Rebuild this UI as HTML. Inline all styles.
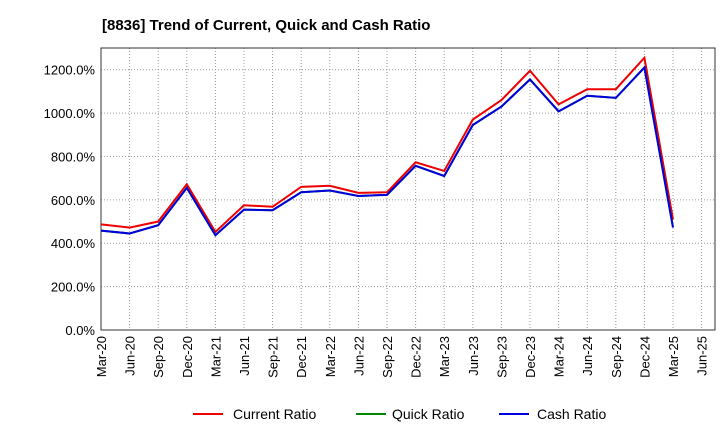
<!DOCTYPE html>
<html><head><meta charset="utf-8"><style>
body{margin:0;background:#fff;font-family:"Liberation Sans",sans-serif;}
svg text{font-family:"Liberation Sans",sans-serif;}
</style></head><body>
<svg id="chart" width="720" height="440" xmlns="http://www.w3.org/2000/svg">
<text x="102" y="30" font-size="15" font-weight="bold" fill="#000">[8836]  Trend of Current, Quick and Cash Ratio</text>
<g id="grid"></g><g id="axes"></g><g id="series"></g>
<g>
<line x1="193" y1="414" x2="223" y2="414" stroke="#e00" stroke-width="2"/>
<text x="233" y="419" font-size="14">Current Ratio</text>
<line x1="356" y1="414" x2="386" y2="414" stroke="#080" stroke-width="2"/>
<text x="392" y="419" font-size="14">Quick Ratio</text>
<line x1="499" y1="414" x2="529" y2="414" stroke="#00d" stroke-width="2"/>
<text x="537" y="419" font-size="14">Cash Ratio</text>
</g>
</svg>
<script>
const categories=["Mar-20","Jun-20","Sep-20","Dec-20","Mar-21","Jun-21","Sep-21","Dec-21","Mar-22","Jun-22","Sep-22","Dec-22","Mar-23","Jun-23","Sep-23","Dec-23","Mar-24","Jun-24","Sep-24","Dec-24","Mar-25"];
const xTickLabels=["Mar-20","Jun-20","Sep-20","Dec-20","Mar-21","Jun-21","Sep-21","Dec-21","Mar-22","Jun-22","Sep-22","Dec-22","Mar-23","Jun-23","Sep-23","Dec-23","Mar-24","Jun-24","Sep-24","Dec-24","Mar-25","Jun-25"];
const currentRatio=[487,472,500,672,452,575,568,660,665,632,635,773,733,970,1060,1195,1040,1110,1110,1255,510];
const quickRatio=[458,445,483,655,437,555,552,635,643,618,623,757,710,945,1030,1155,1008,1080,1070,1210,473];
const cashRatio=[458,445,483,655,437,555,552,635,643,618,623,757,710,945,1030,1155,1008,1080,1070,1210,473];
const yTicks=[0,200,400,600,800,1000,1200];
const L=101,R=715,T=48,B=330,yMax=1300,step=28.6;
const x=i=>L+i*step;
const y=v=>B-(v/yMax)*(B-T);
const NS="http://www.w3.org/2000/svg";
function mk(tag,attrs,parent){const e=document.createElementNS(NS,tag);for(const k in attrs)e.setAttribute(k,attrs[k]);parent.appendChild(e);return e;}
const grid=document.getElementById('grid'),axes=document.getElementById('axes'),ser=document.getElementById('series');
yTicks.forEach(v=>{
 const g=mk('line',{x1:L,x2:R,y1:y(v),y2:y(v),stroke:'#999','stroke-dasharray':'1,2','stroke-width':1},grid);
 
 
 const t=mk('text',{x:L-6,y:y(v)+5,'font-size':13,'text-anchor':'end'},axes);
 
 
 t.textContent=v.toFixed(1)+'%';
});
xTickLabels.forEach((c,i)=>{
 const g=mk('line',{x1:x(i),x2:x(i),y1:T,y2:B,stroke:'#999','stroke-dasharray':'1,2','stroke-width':1},grid);
 
 
 const t=mk('text',{x:0,y:0,'font-size':13,'text-anchor':'end',transform:`translate(${x(i)+5},${B+6}) rotate(-90)`},axes);
 
 
 t.textContent=c;
});
const fr=mk('rect',{x:L,y:T,width:R-L,height:B-T,fill:'none',stroke:'#333','stroke-width':1},axes);


function line(arr,color,name){
 const p=mk('polyline',{points:arr.map((v,i)=>x(i)+','+y(v)).join(' '),fill:'none',stroke:color,'stroke-width':2},ser);
 
 
}
line(currentRatio,'#e00','current-ratio-line');
line(quickRatio,'#080','quick-ratio-line');
line(cashRatio,'#00d','cash-ratio-line');
</script>
</body></html>
